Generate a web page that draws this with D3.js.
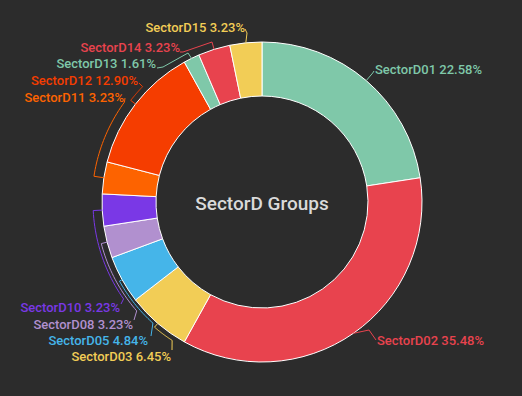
<!DOCTYPE html>
<html>
<head>
<meta charset="utf-8">
<script src="https://cdn.jsdelivr.net/npm/d3@7"></script>
<style>
  html, body { margin: 0; padding: 0; background: #2c2c2c; }
  svg { display: block; }
</style>
</head>
<body>
<div id="vis"></div>
<script>
// frame
const FRAME_WIDTH = 522;
const FRAME_HEIGHT = 396;
const CX = 262, CY = 202;
const R_OUT = 160, R_IN = 106;

// data
const sectors = ["SectorD01", "SectorD02", "SectorD03", "SectorD05", "SectorD08", "SectorD10",
                 "SectorD11", "SectorD12", "SectorD13", "SectorD14", "SectorD15"];
const counts = [14, 22, 4, 3, 2, 2, 2, 8, 1, 2, 2];
const colors = ["#7fc8a9", "#e8434e", "#f2cd56", "#45b5e9", "#b190cf", "#7a38e6",
                "#fd6300", "#f53d00", "#7fc8a9", "#e8434e", "#f2cd56"];
const title = "SectorD Groups";

// label placement (text position + leader line route)
const labelLayout = {
  SectorD01: {x: 375, y: 69, anchor: "start", len: 10, end: [374, 71]},
  SectorD02: {x: 377, y: 340, anchor: "start", len: 0, via: [[369, 330]], end: [376, 340]},
  SectorD03: {x: 171, y: 356, anchor: "end", len: 5, hug: 213, end: [172, 350]},
  SectorD05: {x: 148, y: 340, anchor: "end", len: 3, hug: 222, end: [151, 336]},
  SectorD08: {x: 133, y: 324, anchor: "end", len: 6, hug: 229, end: [134, 320]},
  SectorD10: {x: 120, y: 307, anchor: "end", len: 9, hug: 235, end: [121, 304]},
  SectorD11: {x: 124, y: 97, anchor: "end", len: 10, hug: 306, end: [125, 98]},
  SectorD12: {x: 138, y: 80.5, anchor: "end", len: 6, hug: 314, end: [139, 83]},
  SectorD13: {x: 156, y: 63.5, anchor: "end", len: 0, via: [[188, 53], [163, 67]], end: [157, 68]},
  SectorD14: {x: 180, y: 47.5, anchor: "end", len: 0, via: [[212, 42], [183, 52]], end: [180, 52]},
  SectorD15: {x: 245, y: 27, anchor: "end", len: 0, via: [[247, 33]], end: [245, 29]}
};

const total = d3.sum(counts);
const rows = sectors.map((s, i) => ({name: s, value: counts[i], color: colors[i]}));

const svg = d3.select("#vis")
  .append("svg")
    .attr("width", FRAME_WIDTH)
    .attr("height", FRAME_HEIGHT);

svg.append("rect")
  .attr("width", FRAME_WIDTH)
  .attr("height", FRAME_HEIGHT)
  .attr("fill", "#2c2c2c");

const pie = d3.pie().sort(null).value(d => d.value);
const arc = d3.arc().innerRadius(R_IN).outerRadius(R_OUT);
const arcs = pie(rows);

const g = svg.append("g").attr("transform", `translate(${CX},${CY})`);

g.selectAll("path.slice")
  .data(arcs)
  .enter()
  .append("path")
    .attr("class", "slice")
    .attr("d", arc)
    .attr("fill", d => d.data.color)
    .attr("stroke", "#ffffff")
    .attr("stroke-width", 1);

// polar -> page coords (d3 angle convention, 0 at top, clockwise)
function polar(a, r) {
  return [CX + r * Math.sin(a), CY - r * Math.cos(a)];
}

const line = d3.line();

function leaderPoints(d) {
  const L = labelLayout[d.data.name];
  const mid = (d.startAngle + d.endAngle) / 2;
  const pts = [polar(mid, R_OUT)];
  if (L.len) pts.push(polar(mid, R_OUT + L.len));
  if (L.hug !== undefined) {
    const to = L.hug * Math.PI / 180;
    const steps = 24;
    for (let k = 1; k <= steps; k++) {
      pts.push(polar(mid + (to - mid) * k / steps, R_OUT + L.len));
    }
  }
  if (L.via) L.via.forEach(p => pts.push(p));
  pts.push(L.end);
  return pts;
}

svg.selectAll("path.leader")
  .data(arcs)
  .enter()
  .append("path")
    .attr("class", "leader")
    .attr("d", d => line(leaderPoints(d)))
    .attr("fill", "none")
    .attr("stroke", d => d.data.color)
    .attr("stroke-width", 1);

svg.selectAll("text.label")
  .data(arcs)
  .enter()
  .append("text")
    .attr("class", "label")
    .attr("x", d => labelLayout[d.data.name].x)
    .attr("y", d => labelLayout[d.data.name].y)
    .attr("text-anchor", d => labelLayout[d.data.name].anchor)
    .attr("dominant-baseline", "central")
    .attr("fill", d => d.data.color)
    .attr("font-family", "Roboto, sans-serif")
    .attr("font-size", "13px")
    .attr("font-weight", 500)
    .text(d => d.data.name + " " + (d.data.value / total * 100).toFixed(2) + "%");

svg.append("text")
  .attr("x", CX)
  .attr("y", CY + 1)
  .attr("text-anchor", "middle")
  .attr("dominant-baseline", "central")
  .attr("fill", "#dadada")
  .attr("font-family", "Roboto, sans-serif")
  .attr("font-size", "19px")
  .attr("font-weight", 500)
  .text(title);
</script>
</body>
</html>
